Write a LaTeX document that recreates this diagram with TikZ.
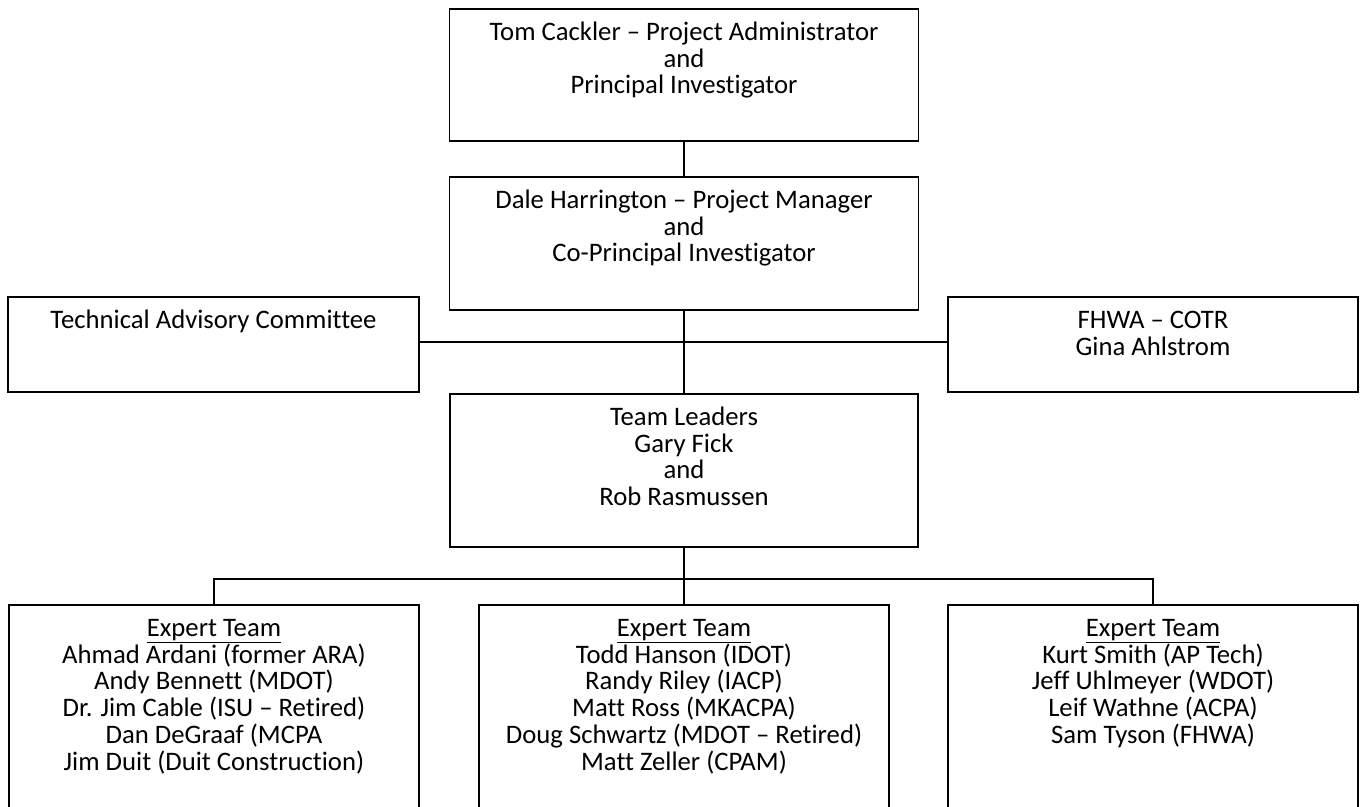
\documentclass[tikz,border=0pt]{standalone}
\usepackage{fontspec}
\setmainfont{Carlito}[Ligatures=NoCommon]
\newcommand{\boxtext}[3]{\parbox[c][#2][t]{#1}{\centering\rule{0pt}{31.5pt}#3}}
\tikzset{
  orgbox/.style={draw=black, line width=1.4pt, inner sep=0pt, outer sep=0pt, anchor=center,
    font=\fontsize{26.7}{26.7}\selectfont},
  conn/.style={draw=black, line width=1.6pt},
  thickconn/.style={draw=black, line width=2.6pt},
}
\begin{document}
\begin{tikzpicture}[x=1pt,y=-1pt]
\useasboundingbox (0,0) rectangle (1362,806);
\clip (0,0) rectangle (1362,806);
\fill[white] (0,0) rectangle (1362,806);

\node[orgbox] (T) at (684,75) {\boxtext{469pt}{132pt}{Tom Cackler – Project Administrator\\and\\Principal Investigator}};
\node[orgbox] (M) at (684,243.5) {\boxtext{469pt}{133pt}{Dale Harrington – Project Manager\\and\\Co-Principal Investigator}};
\node[orgbox] (tac) at (213.5,344.5) {\boxtext{411pt}{95pt}{Technical Advisory Committee}};
\node[orgbox] (fhwa) at (1153,344.5) {\boxtext{410pt}{95pt}{FHWA – COTR\\Gina Ahlstrom}};
\node[orgbox] (tl) at (684,470.5) {\boxtext{468pt}{153pt}{Team Leaders\\Gary Fick\\and\\Rob Rasmussen}};

\node[orgbox] (e1) at (214,722.5) {\boxtext{410pt}{235pt}{\underline{Expert Team}\\Ahmad Ardani (former ARA)\\Andy Bennett (MDOT)\\Dr. Jim Cable (ISU – Retired)\\Dan DeGraaf (MCPA\\Jim Duit (Duit Construction)}};
\node[orgbox] (e2) at (684,722.5) {\boxtext{410pt}{235pt}{\underline{Expert Team}\\Todd Hanson (IDOT)\\Randy Riley (IACP)\\Matt Ross (MKACPA)\\Doug Schwartz (MDOT – Retired)\\Matt Zeller (CPAM)}};
\node[orgbox] (e3) at (1153,722.5) {\boxtext{410pt}{235pt}{\underline{Expert Team}\\Kurt Smith (AP Tech)\\Jeff Uhlmeyer (WDOT)\\Leif Wathne (ACPA)\\Sam Tyson (FHWA)}};

\coordinate (side) at (684,342);
\coordinate (bus) at (684,579);

\draw[thickconn] (T.south) -- (M.north);
\draw[conn] (tac.east |- side) -- (fhwa.west |- side);
\draw[thickconn] (M.south) -- (tl.north);
\draw[thickconn] (tl.south) -- (e2.north);
\draw[conn] (e1.north) |- (bus) -| (e3.north);
\end{tikzpicture}
\end{document}
